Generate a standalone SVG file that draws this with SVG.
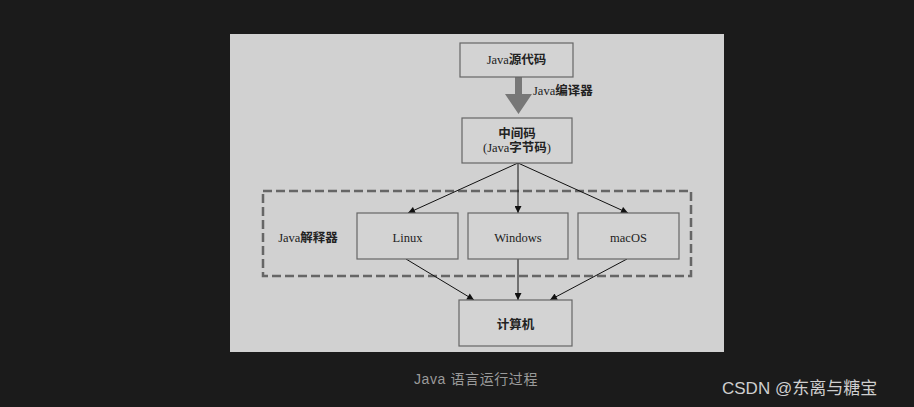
<svg xmlns="http://www.w3.org/2000/svg" width="914" height="407" viewBox="0 0 914 407">
<defs>
<marker id="ah" viewBox="0 0 10 10" refX="10" refY="5" markerWidth="9" markerHeight="7" markerUnits="userSpaceOnUse" orient="auto">
<path d="M0,0 L10,5 L0,10 z" fill="#111"/>
</marker>
<style>
.box{fill:#d3d3d3;stroke:#666;stroke-width:1.2}
.t{font-family:"Liberation Serif","Noto Sans CJK SC",serif;font-size:12.5px;fill:#222;text-anchor:middle;dominant-baseline:central}
.z{font-weight:bold}
.c{stroke:#111;stroke-width:1;fill:none;marker-end:url(#ah)}
</style>
</defs>
<rect width="914" height="407" fill="#1b1b1b"/>
<rect x="230" y="34" width="494" height="318" fill="#d1d1d1"/>
<g id="interpreter">
<rect x="263" y="191" width="428" height="85" fill="none" stroke="#666" stroke-width="2.5" stroke-dasharray="9,4"/>
<text class="t" x="308" y="238">Java<tspan class="z">解释器</tspan></text>
</g>
<g id="connectors">
<path d="M515,77 H522 V94 H532 L518.5,114 L505,94 H515 Z" fill="#777"/>
<text class="t" x="533" y="91" style="text-anchor:start">Java<tspan class="z">编译器</tspan></text>
<line class="c" x1="518" y1="163" x2="408" y2="213"/>
<line class="c" x1="518" y1="163" x2="518" y2="213"/>
<line class="c" x1="518" y1="163" x2="628" y2="213"/>
<line class="c" x1="406" y1="259" x2="474" y2="300"/>
<line class="c" x1="518" y1="259" x2="518" y2="300"/>
<line class="c" x1="627" y1="259" x2="550" y2="300"/>
</g>
<g id="source">
<rect class="box" x="460" y="43" width="113" height="34"/>
<text class="t" x="516.5" y="60">Java<tspan class="z">源代码</tspan></text>
</g>
<g id="bytecode">
<rect class="box" x="462" y="118" width="110" height="45"/>
<text class="t z" x="517" y="134">中间码</text>
<text class="t" x="517" y="148">(Java<tspan class="z">字节码</tspan>)</text>
</g>
<g id="linux">
<rect class="box" x="357" y="213" width="101" height="46"/>
<text class="t" x="407.5" y="238">Linux</text>
</g>
<g id="windows">
<rect class="box" x="468" y="213" width="100" height="46"/>
<text class="t" x="518" y="238">Windows</text>
</g>
<g id="macos">
<rect class="box" x="578" y="213" width="101" height="46"/>
<text class="t" x="628.5" y="238">macOS</text>
</g>
<g id="computer">
<rect class="box" x="459" y="300" width="113" height="46"/>
<text class="t z" x="515.5" y="325">计算机</text>
</g>
<text x="476" y="384" font-family="Liberation Sans,Noto Sans CJK SC,sans-serif" font-size="14" fill="#9a9a9a" text-anchor="middle" letter-spacing="0.6">Java 语言运行过程</text>
<text x="722" y="394" font-family="Liberation Sans,Noto Sans CJK SC,sans-serif" font-size="17" fill="#cfcfcf">CSDN @东离与糖宝</text>
</svg>
